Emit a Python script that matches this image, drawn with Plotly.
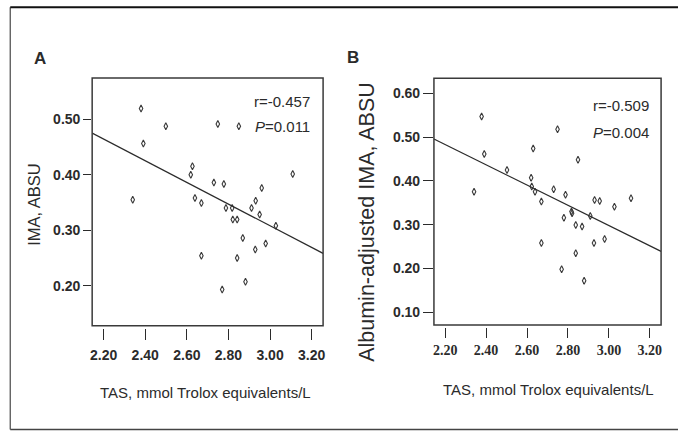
import plotly.graph_objects as go

W, H = 678, 431

# ---------------- data ----------------
tas_a = [2.380, 2.340, 2.391, 2.499, 2.627, 2.619, 2.639, 2.670, 2.670, 2.730,
         2.749, 2.778, 2.770, 2.788, 2.818, 2.821, 2.842, 2.850, 2.842, 2.869,
         2.882, 2.911, 2.931, 2.950, 2.960, 2.929, 2.979, 3.028, 3.109]
ima_a = [0.519, 0.355, 0.456, 0.487, 0.415, 0.400, 0.358, 0.349, 0.254, 0.386,
         0.491, 0.383, 0.193, 0.340, 0.340, 0.319, 0.319, 0.487, 0.250, 0.286,
         0.207, 0.340, 0.353, 0.328, 0.376, 0.265, 0.276, 0.308, 0.401]

tas_b = [2.378, 2.341, 2.391, 2.502, 2.630, 2.620, 2.623, 2.639, 2.670, 2.670,
         2.730, 2.749, 2.769, 2.780, 2.788, 2.817, 2.820, 2.838, 2.849, 2.838,
         2.869, 2.879, 2.909, 2.927, 2.930, 2.955, 2.979, 3.027, 3.108]
ima_adj_b = [0.547, 0.375, 0.461, 0.425, 0.474, 0.407, 0.387, 0.375, 0.353, 0.258,
             0.381, 0.518, 0.198, 0.316, 0.368, 0.330, 0.326, 0.299, 0.448, 0.235,
             0.296, 0.172, 0.320, 0.258, 0.356, 0.354, 0.267, 0.341, 0.360]

fit_a = {"slope": -0.195, "intercept": 0.893}
fit_b = {"slope": -0.231, "intercept": 0.991}

stats_a = ["r=-0.457", "<i>P</i>=0.011"]
stats_b = ["r=-0.509", "<i>P</i>=0.004"]

x_ticks = [2.2, 2.4, 2.6, 2.8, 3.0, 3.2]
x_ticklabels = ["2.20", "2.40", "2.60", "2.80", "3.00", "3.20"]
y_ticks_a = [0.2, 0.3, 0.4, 0.5]
y_ticklabels_a = ["0.20", "0.30", "0.40", "0.50"]
y_ticks_b = [0.1, 0.2, 0.3, 0.4, 0.5, 0.6]
y_ticklabels_b = ["0.10", "0.20", "0.30", "0.40", "0.50", "0.60"]

x_title = "TAS, mmol Trolox equivalents/L"
y_title_a = "IMA, ABSU"
y_title_b = "Albumin-adjusted IMA, ABSU"

x_range = [2.145, 3.255]
y_range_a = [0.128, 0.574]
y_range_b = [0.071, 0.634]


def px(x):
    return x / W


def py(y):
    return 1 - y / H


SANS = "Liberation Sans, Arial, sans-serif"
SERIF = "Liberation Serif, Times New Roman, serif"
INK = "#2b2b2b"

fig = go.Figure()

marker = dict(symbol="diamond-tall-open", size=5, color="#3a3a3a", line=dict(width=1.1, color="#3a3a3a"))

fig.add_trace(go.Scatter(x=tas_a, y=ima_a, mode="markers", marker=marker,
                         xaxis="x", yaxis="y", showlegend=False))
fig.add_trace(go.Scatter(x=x_range, y=[fit_a["intercept"] + fit_a["slope"] * v for v in x_range],
                         mode="lines", line=dict(color=INK, width=1.3),
                         xaxis="x", yaxis="y", showlegend=False))
fig.add_trace(go.Scatter(x=tas_b, y=ima_adj_b, mode="markers", marker=marker,
                         xaxis="x2", yaxis="y2", showlegend=False))
fig.add_trace(go.Scatter(x=x_range, y=[fit_b["intercept"] + fit_b["slope"] * v for v in x_range],
                         mode="lines", line=dict(color=INK, width=1.3),
                         xaxis="x2", yaxis="y2", showlegend=False))

# panel geometry (pixels)
A_box = dict(l=90.7, r=323, t=78, b=325.7)
B_box = dict(l=434.5, r=663, t=78.3, b=325)

common_x = dict(range=x_range, tickvals=x_ticks, ticktext=x_ticklabels, ticks="outside",
                showgrid=False, zeroline=False, showline=False, tickcolor=INK, tickwidth=1.3,
                anchor="free")
common_y = dict(showgrid=False, zeroline=False, showline=False, ticks="outside",
                tickcolor=INK, tickwidth=1.3)

fig.update_layout(
    width=W, height=H,
    margin=dict(l=0, r=0, t=0, b=0),
    paper_bgcolor="white", plot_bgcolor="white",
    xaxis=dict(common_x, domain=[px(A_box["l"]), px(A_box["r"])], position=py(328),
               ticklen=11, ticklabelstandoff=3,
               tickfont=dict(family=SANS, size=14, color=INK, weight="bold")),
    yaxis=dict(common_y, domain=[py(A_box["b"]), py(A_box["t"])], range=y_range_a,
               tickvals=y_ticks_a, ticktext=y_ticklabels_a, anchor="x", ticklen=8,
               tickfont=dict(family=SANS, size=14, color=INK, weight="bold")),
    xaxis2=dict(common_x, domain=[px(B_box["l"]), px(B_box["r"])], position=py(326.7),
                ticklen=10, ticklabelstandoff=0,
                tickfont=dict(family=SERIF, size=14, color=INK, weight="bold")),
    yaxis2=dict(common_y, domain=[py(B_box["b"]), py(B_box["t"])], range=y_range_b,
                tickvals=y_ticks_b, ticktext=y_ticklabels_b, anchor="x2", ticklen=10,
                tickfont=dict(family=SANS, size=14, color=INK, weight="bold")),
)

shapes = []
for xr, yr in (("x domain", "y domain"), ("x2 domain", "y2 domain")):
    shapes.append(dict(type="rect", xref=xr, yref=yr, x0=0, x1=1, y0=0, y1=1,
                       line=dict(color="#3a3a3a", width=1.5)))
# outer frame (left, top, bottom edges)
shapes.append(dict(type="line", xref="paper", yref="paper", x0=px(8.3), x1=px(8.3), y0=py(7.3), y1=py(429.5),
                   line=dict(color="#555", width=1.3)))
shapes.append(dict(type="line", xref="paper", yref="paper", x0=px(8.3), x1=1.01, y0=py(7.3), y1=py(7.3),
                   line=dict(color="#111", width=2)))
shapes.append(dict(type="line", xref="paper", yref="paper", x0=px(8.3), x1=1.01, y0=py(429.5), y1=py(429.5),
                   line=dict(color="#444", width=1.5)))
fig.update_layout(shapes=shapes)

ann = []


def text(x, y, s, size, family=SANS, xanchor="center", yanchor="middle", angle=0, weight="normal"):
    ann.append(dict(x=px(x), y=py(y), xref="paper", yref="paper", text=s, showarrow=False,
                    xanchor=xanchor, yanchor=yanchor, textangle=angle,
                    font=dict(family=family, size=size, color=INK, weight=weight)))


text(38, 58, "A", 17, weight="bold")
text(353, 57, "B", 17, weight="bold")
text(312, 101.7, stats_a[0], 15, xanchor="right")
text(312, 126.7, stats_a[1], 15, xanchor="right")
text(653, 105, stats_b[0], 15, xanchor="right")
text(653, 132.7, stats_b[1], 15, xanchor="right")
text(205, 392, x_title, 15)
text(550, 389, x_title, 15)
text(32, 204, y_title_a, 16.5, angle=-90)
text(367, 222, y_title_b, 21.5, angle=-90)
fig.update_layout(annotations=ann)

fig.write_html("out.html",
               config={"displayModeBar": False},
               post_script="document.body.style.margin='0';document.body.style.overflow='hidden';")
